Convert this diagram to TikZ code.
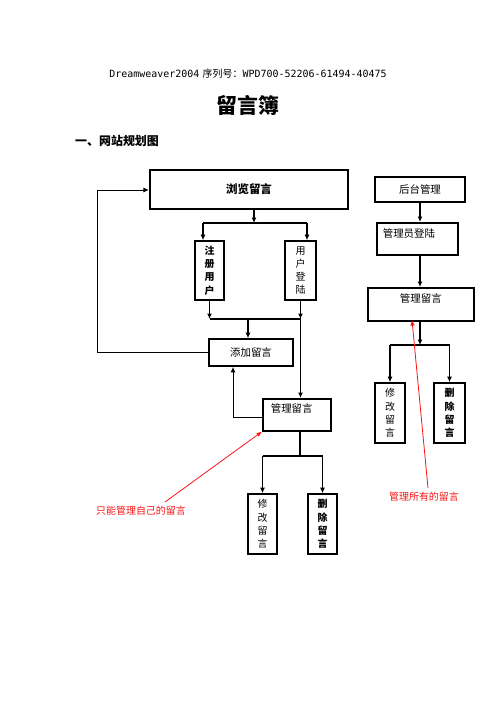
\documentclass[tikz,border=0pt]{standalone}
\usepackage{fontspec}
\usepackage{tikz}
\usetikzlibrary{arrows.meta}
\newfontfamily\cjk{Noto Sans CJK SC}
\newfontfamily\mono{DejaVu Sans Mono}
\definecolor{hong}{RGB}{250, 20, 20}
\tikzset{
    kuang/.style={draw, line width=1.6bp, inner sep=0pt, font=\cjk\fontsize{10.5}{12}\selectfont},
    cu/.style={line width=2.1bp},
    kuangB/.style={kuang, cu, font=\cjk\bfseries\fontsize{11.5}{13}\selectfont},
    shu/.style={kuang, align=center, font=\cjk\fontsize{10}{13.3}\selectfont},
    shuB/.style={shu, font=\cjk\bfseries\fontsize{10}{13.3}\selectfont},
    conn/.style={-{Latex[length=5.5bp,width=5bp]}, line width=1.6bp},
    lian/.style={-, line width=1.6bp},
    xi/.style={line width=1bp},
    zhu/.style={text=hong, inner sep=0pt, font=\cjk\fontsize{10}{12}\selectfont},
    zhuarr/.style={-{Latex[length=5.5bp,width=4.5bp]}, hong, line width=0.8bp},
}

\begin{document}
\begin{tikzpicture}[x=1bp, y=-1bp]
    \useasboundingbox (0,0) rectangle (496,702);

    \node[inner sep=0pt] (hdr) at (248,74) {{\mono\fontsize{10}{12}\selectfont Dreamweaver2004} {\cjk\fontsize{10}{12}\selectfont 序列号：}{\mono\fontsize{10}{12}\selectfont WPD700-52206-61494-40475}};
    \node[inner sep=0pt, font=\cjk\bfseries\fontsize{21}{24}\selectfont] (title) at (248,105) {留言簿};
    \node[inner sep=0pt, anchor=west, font=\cjk\bfseries\fontsize{12}{14}\selectfont] (sec) at (75,141) {一、网站规划图};

    \node[kuangB, minimum width=198bp, minimum height=39bp] (browse) at (249,189.5) {浏览留言};
    \node[shuB, minimum width=29bp, minimum height=59bp] (reg) at (209.5,270.5) {注\\册\\用\\户};
    \node[shu, minimum width=31bp, minimum height=59bp] (login) at (300.5,270.5) {用\\户\\登\\陆};
    \node[kuang, minimum width=84bp, minimum height=27bp] (add) at (251,352.5) {添加留言};
    \node[kuang, anchor=north west, text width=52bp, inner xsep=8bp, text height=14bp, text depth=18bp, align=left] (mgrL) at (262,398) {管理留言};
    \node[shu, minimum width=29bp, minimum height=60bp] (modL) at (262.5,524) {修\\改\\留\\言};
    \node[shuB, minimum width=29bp, minimum height=60bp] (delL) at (322.5,524) {删\\除\\留\\言};

    \node[kuang, cu, minimum width=90bp, minimum height=25bp] (bg) at (420,189.5) {后台管理};
    \node[kuang, anchor=north west, text width=69bp, inner xsep=6bp, text height=15bp, text depth=17bp, align=left] (admin) at (376,222) {管理员登陆};
    \node[kuang, anchor=north west, text width=106bp, inner xsep=0pt, text height=15bp, text depth=18bp, align=center] (mgrR) at (367,287) {管理留言};
    \node[shu, minimum width=30bp, minimum height=60bp] (modR) at (390,413) {修\\改\\留\\言};
    \node[shuB, minimum width=31bp, minimum height=60bp] (delR) at (449.5,413) {删\\除\\留\\言};

    \node[zhu] (noteL) at (141,511) {只能管理自己的留言};
    \node[zhu] (noteR) at (424,497) {管理所有的留言};

    \coordinate (t0) at (254,223);
    \coordinate (t1) at (203,223);
    \coordinate (t2) at (307,223);
    \coordinate (m0) at (248,319);
    \coordinate (m1) at (209.5,319);
    \coordinate (m2) at (300.5,319);
    \coordinate (lpa) at (97,352.5);
    \coordinate (lpb) at (97,190);
    \coordinate (bk) at (233,417);
    \coordinate (n0) at (300,456);
    \coordinate (n1) at (262.5,456);
    \coordinate (n2) at (322.5,456);
    \coordinate (r0) at (420,345);
    \coordinate (r1) at (390,345);
    \coordinate (r2) at (449.5,345);
    \coordinate (cL) at (165,502);
    \coordinate (cR) at (428,488);
    \coordinate (tR) at (412,320);

    \draw[conn] (t0 |- browse.south) -- (t0);
    \draw[lian] (t1) -- (t2);
    \draw[conn] (t1) -- (t1 |- reg.north);
    \draw[conn] (t2) -- (t2 |- login.north);
    \draw[conn] (reg.south) -- (m1);
    \draw[conn] (login.south) -- (m2);
    \draw[lian] (m1) -- (m2);
    \draw[conn] (m0) -- (m0 |- add.north);
    \draw[conn] (m2) -- (m2 |- mgrL.north);
    \draw[conn, xi] (add.west) -- (lpa) -- (lpb) -- (lpb -| browse.west);
    \draw[conn, xi] (bk -| mgrL.west) -- (bk) -- (bk |- add.south);
    \draw[lian] (n0 |- mgrL.south) -- (n0);
    \draw[lian] (n1) -- (n2);
    \draw[conn] (n1) -- (modL.north);
    \draw[conn] (n2) -- (delL.north);

    \draw[conn] (bg.south) -- (bg.south |- admin.north);
    \draw[conn] (bg.south |- admin.south) -- (bg.south |- mgrR.north);
    \draw[conn] (r0 |- mgrR.south) -- (r0);
    \draw[lian] (r1) -- (r2);
    \draw[conn] (r1) -- (modR.north);
    \draw[conn] (r2) -- (delR.north);

    \draw[zhuarr] (cL) -- (mgrL.south west);
    \draw[zhuarr] (cR) -- (tR);
\end{tikzpicture}
\end{document}
